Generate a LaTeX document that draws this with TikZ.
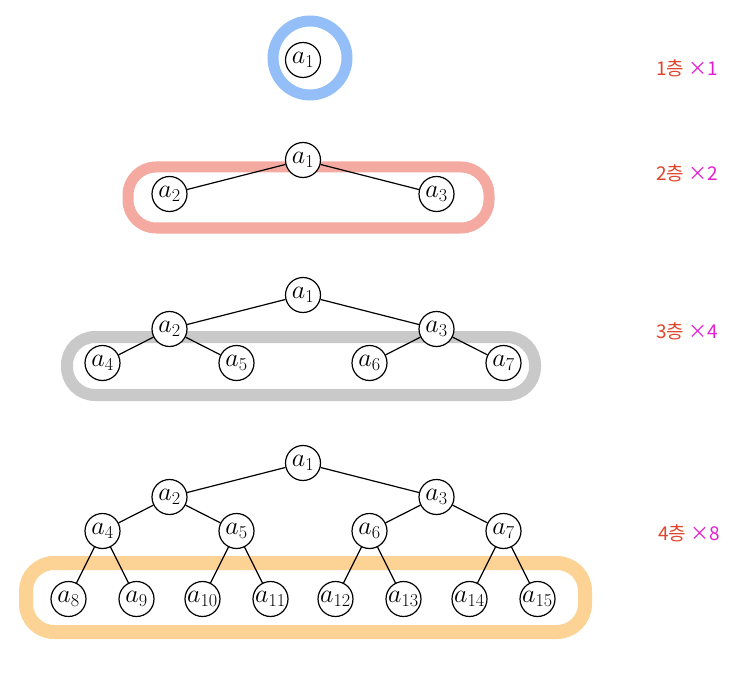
\documentclass[tikz,border=0pt]{standalone}
\usepackage{fix-cm}
\usepackage{amsmath,amssymb}
\usepackage{fontspec}
\usepackage{tikz}
\newfontfamily\cjk{Noto Sans CJK KR}
\definecolor{ringblue}{HTML}{93BEF7}
\definecolor{ringred}{HTML}{F4A9A1}
\definecolor{ringgray}{HTML}{C9C9C9}
\definecolor{ringorange}{HTML}{FCD394}
\definecolor{tagred}{HTML}{E0452B}
\definecolor{tagmag}{HTML}{E31ED0}
\begin{document}
\begin{tikzpicture}[
      x=1pt, y=-1pt,
      inner sep=0pt,
      level distance=34pt,
      level 1/.style={sibling distance=267pt},
      level 2/.style={sibling distance=134pt},
      level 3/.style={sibling distance=68pt, level distance=68pt},
      vertex/.style={circle, draw, fill=white, minimum size=35pt, line width=1.2pt,
        font=\fontsize{26}{28}\selectfont},
      edge from parent/.style={draw, line width=1.2pt},
      hl/.style={line width=11pt, rounded corners=28pt, line cap=round},
      tag/.style={font=\cjk\fontsize{19}{22}\selectfont, anchor=center}
    ]
    \useasboundingbox (0,0) rectangle (753,698);
    % highlighted levels
    \draw[hl, ringblue, line width=11pt] (310,58) circle (37pt);
    \draw[hl, ringred] (128,167) rectangle (489,228);
    \draw[hl, ringgray, line width=12pt] (67,337) rectangle (535,395);
    \draw[hl, ringorange, line width=14pt] (26,563) rectangle (585,632);
    % level 1
    \node (r1) [vertex] at (303,60) {$a_1$};
    % levels 1-2
    \node (r2) [vertex] at (303,160) {$a_1$}
    child {node (r2-0) [vertex] {$a_2$}}
    child {node (r2-1) [vertex] {$a_3$}};
    % levels 1-3
    \node (r3) [vertex] at (303,295) {$a_1$}
    child {node (r3-0) [vertex] {$a_2$}
      child {node (r3-00) [vertex] {$a_4$}}
      child {node (r3-01) [vertex] {$a_5$}}}
    child {node (r3-1) [vertex] {$a_3$}
      child {node (r3-10) [vertex] {$a_6$}}
      child {node (r3-11) [vertex] {$a_7$}}};
    % levels 1-4
    \node (r4) [vertex] at (303,463) {$a_1$}
    child {node (r4-0) [vertex] {$a_2$}
      child {node (r4-00) [vertex] {$a_4$}
        child {node (r4-000) [vertex] {$a_8$}}
        child {node (r4-001) [vertex] {$a_9$}}}
      child {node (r4-01) [vertex] {$a_5$}
        child {node (r4-010) [vertex] {$a_{10}$}}
        child {node (r4-011) [vertex] {$a_{11}$}}}}
    child {node (r4-1) [vertex] {$a_3$}
      child {node (r4-10) [vertex] {$a_6$}
        child {node (r4-100) [vertex] {$a_{12}$}}
        child {node (r4-101) [vertex] {$a_{13}$}}}
      child {node (r4-11) [vertex] {$a_7$}
        child {node (r4-110) [vertex] {$a_{14}$}}
        child {node (r4-111) [vertex] {$a_{15}$}}}};
    % counts per level
    \node (t1) [tag] at (687,68) {\textcolor{tagred}{1층} \textcolor{tagmag}{×1}};
    \node (t2) [tag] at (687,173) {\textcolor{tagred}{2층} \textcolor{tagmag}{×2}};
    \node (t3) [tag] at (687,331) {\textcolor{tagred}{3층} \textcolor{tagmag}{×4}};
    \node (t4) [tag] at (689,533) {\textcolor{tagred}{4층} \textcolor{tagmag}{×8}};
  \end{tikzpicture}
\end{document}
